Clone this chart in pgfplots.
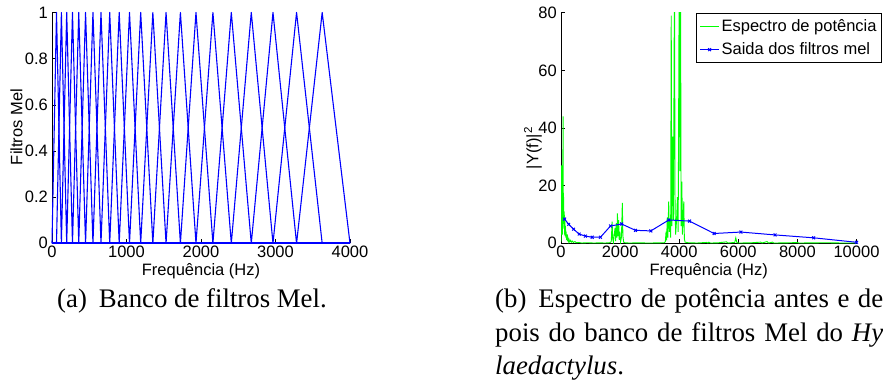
\documentclass[border=0pt]{standalone}
\usepackage{fontspec}
\setmainfont{Liberation Serif}
\newfontfamily\arial{Liberation Sans}
\usepackage{pgfplots}
\pgfplotsset{compat=1.18}

\definecolor{mgreen}{rgb}{0,1,0}
\definecolor{mblue}{rgb}{0,0,1}
\newcommand\af{\arial\fontsize{16.5}{19}\selectfont}
\newcommand\capf{\fontsize{26.8}{32}\selectfont}

\pgfplotsset{mstyle/.style={
  scale only axis,
  axis x line*=bottom, axis y line*=left,
  axis line style={-, black, line width=0.7pt},
  tick align=inside,
  major tick length=4pt,
  tick style={black, line width=0.6pt},
  tick label style={font=\af},
  label style={font=\af},
  /pgf/number format/assume math mode=true,
  /pgf/number format/1000 sep={},
  scaled ticks=false,
  xticklabel style={inner sep=2pt},
  yticklabel style={inner sep=4pt},
}}

\begin{document}
\begin{tikzpicture}
\useasboundingbox (0pt,0pt) rectangle (883pt,387pt);

% (a) Mel filter bank
\begin{axis}[mstyle,
  at={(52pt,143.7pt)}, anchor=south west,
  width=298pt, height=230.8pt,
  xmin=0, xmax=4000, ymin=0, ymax=1,
  xtick={0,1000,2000,3000,4000},
  ytick={0,0.2,0.4,0.6,0.8,1},
  clip=false,
  xlabel={Frequência (Hz)},
  ylabel={Filtros Mel},
  xlabel style={at={(axis description cs:0.5,-0.1386)}, anchor=base},
  ylabel style={at={(axis description cs:-0.119,0.504)}, anchor=center},
]
\addplot[mblue, line width=1.1pt, line join=round] coordinates {
(0,0)(60.42,1)(126.06,0)(197.36,1)(274.82,0)(358.96,1)(450.36,0)(549.65,1)
(657.52,0)(774.70,1)(901.99,0)(1040.26,1)(1190.47,0)(1353.65,1)(1530.91,0)
(1723.47,1)(1932.65,0)(2159.88,1)(2406.74,0)(2674.90,1)(2966.20,0)(3282.65,1)(3626.42,0)};
\addplot[mblue, line width=1.1pt, line join=round] coordinates {
(60.42,0)(126.06,1)(197.36,0)(274.82,1)(358.96,0)(450.36,1)(549.65,0)(657.52,1)
(774.70,0)(901.99,1)(1040.26,0)(1190.47,1)(1353.65,0)(1530.91,1)(1723.47,0)
(1932.65,1)(2159.88,0)(2406.74,1)(2674.90,0)(2966.20,1)(3282.65,0)(3626.42,1)(4000,0)};
\addplot[mblue, line width=2.2pt] coordinates {(0,0)(4000,0)};
\end{axis}

% (b) Power spectrum and mel filter output
\begin{axis}[mstyle,
  at={(561pt,143.7pt)}, anchor=south west,
  width=295.5pt, height=230.6pt,
  xmin=0, xmax=10000, ymin=0, ymax=80,
  xtick={0,2000,4000,6000,8000,10000},
  ytick={0,20,40,60,80},
  xlabel={Frequência (Hz)},
  ylabel={|Y(f)|\textsuperscript{2}},
  xlabel style={at={(axis description cs:0.5,-0.1386)}, anchor=base},
  ylabel style={at={(axis description cs:-0.0948,0.413)}, anchor=center},
  legend cell align=left,
  legend image code/.code={\draw[mark repeat=2,mark phase=2,#1] plot coordinates {(0pt,0pt) (9.5pt,0pt) (19pt,0pt)};},
  legend style={at={(axis description cs:1.0863,0.9987)}, anchor=north east,
    draw=black, line width=0.8pt, fill=white, font=\af,
    inner xsep=3pt, inner ysep=4.5pt, row sep=5.5pt, nodes={inner sep=2pt}},
]
\addplot[mgreen, line width=0.9pt] coordinates {
(0,0.5)(12,4)(20,27)(28,6)(38,18)(48,3)(58,12)(70,44)(80,9)(90,16)(100,5)(110,11)
(120,3)(130,8)(140,2.5)(150,6)(162,2)(175,4)(188,1.2)(200,3)(215,0.8)(230,2)
(250,0.6)(270,1.4)(295,0.5)(320,1)(350,0.4)(380,0.8)(420,0.3)(470,0.6)(520,0.2)
(600,0.3)(700,0.1)(900,0.2)(1100,0.1)(1300,0.15)(1500,0.1)(1650,0.2)(1700,0.6)
(1730,7.5)(1750,1.5)(1775,0.3)(1800,3)(1830,5.3)(1850,0.8)(1870,7)(1890,2)
(1910,10.4)(1930,2.5)(1950,8)(1970,1.2)(1995,4)(2015,0.5)(2045,2)(2075,14)
(2095,2.5)(2120,0.4)(2160,0.2)(2300,0.1)(2600,0.15)(3000,0.1)(3300,0.15)
(3500,0.2)(3530,0.6)(3555,4)(3575,1)(3595,9)(3615,2)(3645,14.5)(3665,4)(3690,8)
(3710,2)(3730,79)(3750,6)(3785,37)(3805,8)(3840,95)(3860,12)(3880,3)(3910,8)
(3940,16)(3965,4)(4000,95)(4020,25)(4045,95)(4065,6)(4090,21.4)(4110,3)
(4155,14.5)(4175,1.5)(4200,0.4)(4300,0.2)(4600,0.1)(4935,0.3)(4970,0.1)(5000,0.4)
(5050,0.1)(5300,0.15)(5600,0.5)(5650,0.1)(5880,0.3)(5915,1.9)(5950,0.3)(6000,0.1)
(6400,0.15)(6760,0.4)(6800,0.1)(6975,0.6)(7020,0.1)(7155,0.4)(7200,0.1)(7600,0.15)
(8000,0.25)(8050,0.1)(8500,0.15)(9000,0.2)(9500,0.1)(10000,0.1)};
\addlegendentry{Espectro de potência}
\addplot[mblue, line width=1pt, mark=x, mark size=2pt, mark options={solid}] coordinates {
(120,8.4)(260,6.6)(425,4.9)(615,3.2)(825,2.5)(1055,2.1)(1335,2.1)(1675,6.0)
(2050,6.7)(2520,4.5)(3040,4.3)(3650,8.1)(4350,7.7)(5180,3.4)(6090,3.9)(7245,2.9)
(8550,1.9)(10000,0.35)};
\addlegendentry{Saida dos filtros mel}
\end{axis}

% captions
\node[anchor=base west, inner sep=0pt, font=\capf] at (57pt,79pt) {(a)\hspace{0.45em}Banco de filtros Mel.};
\node[anchor=base west, inner sep=0pt, font=\capf] at (495pt,79pt) {\makebox[388pt][s]{(b)\hspace{0.45em}Espectro de potência antes e de}};
\node[anchor=base west, inner sep=0pt, font=\capf] at (495pt,45pt) {\makebox[388pt][s]{pois do banco de filtros Mel do \textit{Hy}}};
\node[anchor=base west, inner sep=0pt, font=\capf] at (495pt,12pt) {\textit{laedactylus}.};
\end{tikzpicture}
\end{document}
